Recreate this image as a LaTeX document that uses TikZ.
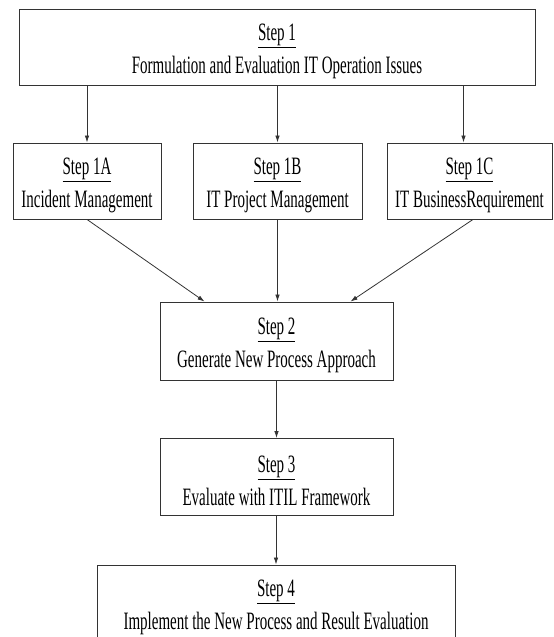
\documentclass[tikz,border=0pt]{standalone}
\usepackage{graphicx}
\usepackage{fontspec}
\setmainfont{Liberation Serif}
\usetikzlibrary{arrows.meta,calc}

% condensed text line and a two-line step label
\newcommand{\narrowline}[1]{\scalebox{0.6}[1]{#1}}
\newcommand{\steplabel}[2]{\narrowline{\underline{#1}}\\\narrowline{#2}}

\begin{document}
\begin{tikzpicture}[x=1pt,y=-1pt,
  stepbox/.style={draw=black!80,line width=0.9pt,fill=white,
    minimum height=76pt,inner sep=0pt},
  steptext/.style={inner sep=0pt,align=center,
    font=\fontsize{25}{33}\selectfont},
  flow/.style={draw=black!80,line width=0.8pt,
    -{Latex[length=7pt,width=4.5pt]}}]
\clip (0,0) rectangle (554,637);

% boxes
\node[stepbox,minimum width=516pt] (s1) at (277,47) {};
\node[stepbox,minimum width=148pt] (s1a) at (87,181) {};
\node[stepbox,minimum width=169pt] (s1b) at (277.5,181) {};
\node[stepbox,minimum width=165pt] (s1c) at (469.5,181) {};
\node[stepbox,minimum width=233pt,minimum height=78pt] (s2) at (276.5,341) {};
\node[stepbox,minimum width=233pt,minimum height=77pt] (s3) at (276.5,477) {};
\node[stepbox,minimum width=358pt] (s4) at (276,603) {};

% texts, set a little below each box centre
\node[steptext] (t1) at ($(s1.center)+(0,4)$)
  {\steplabel{Step 1}{Formulation and Evaluation IT Operation Issues}};
\node[steptext] (t1a) at ($(s1a.center)+(0,4)$)
  {\steplabel{Step 1A}{Incident Management}};
\node[steptext] (t1b) at ($(s1b.center)+(0,4)$)
  {\steplabel{Step 1B}{IT Project Management}};
\node[steptext] (t1c) at ($(s1c.center)+(0,4)$)
  {\steplabel{Step 1C}{IT BusinessRequirement}};
\node[steptext] (t2) at ($(s2.center)+(0,4)$)
  {\steplabel{Step 2}{Generate New Process Approach}};
\node[steptext] (t3) at ($(s3.center)+(0,4)$)
  {\steplabel{Step 3}{Evaluate with ITIL Framework}};
\node[steptext] (t4) at ($(s4.center)+(0,4)$)
  {\steplabel{Step 4}{Implement the New Process and Result Evaluation}};

% connectors
\draw[flow] (s1.south -| s1a.north) -- (s1a.north);
\draw[flow] (s1.south -| s1b.north) -- (s1b.north);
\draw[flow] ($(s1.south -| s1c.north)+(-6,0)$) -- ($(s1c.north)+(-6,0)$);
\draw[flow] (s1a.south) -- ($(s2.north west)+(45,0)$);
\draw[flow] (s1b.south) -- (s1b.south |- s2.north);
\draw[flow] ($(s1c.south)+(3.5,0)$) -- ($(s2.north east)+(-43,0)$);
\draw[flow] (s2.south -| s3.north) -- (s3.north);
\draw[flow] (s3.south -| s4.north) -- (s4.north);
\end{tikzpicture}
\end{document}
